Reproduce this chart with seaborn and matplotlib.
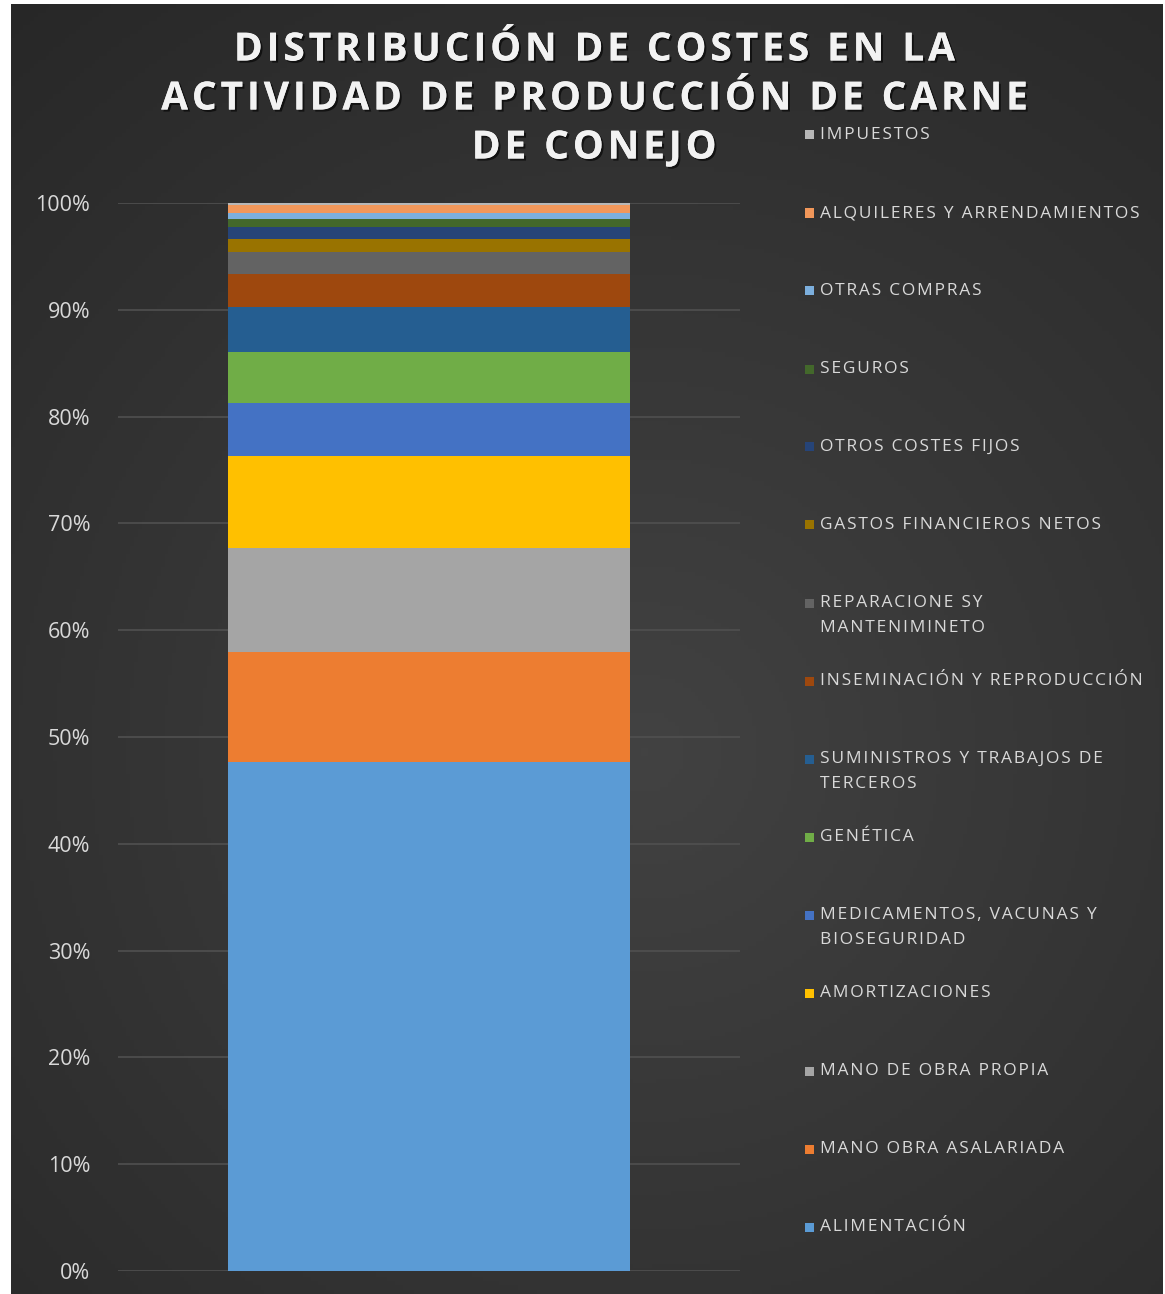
import numpy as np
import pandas as pd
import seaborn as sns
import matplotlib.pyplot as plt
import matplotlib.patheffects as pe
from matplotlib.patches import Rectangle
from matplotlib.ticker import PercentFormatter

# Cost categories (bottom to top of the stacked bar)
categorias = [
    'ALIMENTACIÓN', 'MANO OBRA ASALARIADA', 'MANO DE OBRA PROPIA', 'AMORTIZACIONES',
    'MEDICAMENTOS, VACUNAS Y\nBIOSEGURIDAD', 'GENÉTICA', 'SUMINISTROS Y TRABAJOS DE\nTERCEROS',
    'INSEMINACIÓN Y REPRODUCCIÓN', 'REPARACIONE SY\nMANTENIMINETO', 'GASTOS FINANCIEROS NETOS',
    'OTROS COSTES FIJOS', 'SEGUROS', 'OTRAS COMPRAS', 'ALQUILERES Y ARRENDAMIENTOS', 'IMPUESTOS',
]
# share of total cost (%)
porcentajes = [47.66, 10.30, 9.74, 8.60, 4.96, 4.77, 4.20, 3.13, 2.09, 1.19, 1.15, 0.72, 0.56, 0.78, 0.15]
colores = [
    '#5B9BD5', '#ED7D31', '#A5A5A5', '#FFC000', '#4472C4', '#70AD47', '#255E91', '#9E480E',
    '#636363', '#997300', '#264478', '#43682B', '#7CAFDD', '#F1975A', '#B7B7B7',
]
titulo = ['DISTRIBUCIÓN DE COSTES EN LA', 'ACTIVIDAD DE PRODUCCIÓN DE CARNE', 'DE CONEJO']

df = pd.DataFrame({'categoria': categorias, 'valor': porcentajes, 'color': colores})
df['valor'] = df['valor'] / df['valor'].sum()
df['acumulado'] = df['valor'].cumsum()


def espaciar(txt):
    # wider letter spacing, like the original
    return '\n'.join('\u200a'.join(linea) for linea in txt.split('\n'))


FAM = ['Open Sans', 'DejaVu Sans']
W, H = 1165, 1294
fig = plt.figure(figsize=(W / 100, H / 100), dpi=100, facecolor='white')

# dark gradient background
bg = fig.add_axes([11 / W, 0, (W - 13) / W, (H - 4) / H], zorder=-5)
yy, xx = np.mgrid[0:1:300j, 0:1:300j]
r = np.sqrt(((xx - 0.55) / 0.9) ** 2 + ((yy - 0.58) / 0.8) ** 2)
bg.imshow(np.clip(r, 0, 1), cmap=sns.blend_palette(['#424242', '#262626'], as_cmap=True),
          aspect='auto', extent=[0, 1, 0, 1], origin='upper', vmin=0, vmax=1)
bg.axis('off')

ax = fig.add_axes([118 / W, (H - 1271) / H, 622 / W, 1068 / H])
ax.set_facecolor('none')

# stacked bar: draw cumulative totals from top down
for _, row in df[::-1].iterrows():
    sns.barplot(x=['coste'], y=[row['acumulado']], color=row['color'], width=0.646,
                linewidth=0, saturation=1, ax=ax, zorder=3)

ax.set_xlim(-0.5, 0.5)
ax.set_ylim(0, 1)
ax.set_yticks(np.arange(0, 1.01, 0.1))
ax.yaxis.set_major_formatter(PercentFormatter(1.0, decimals=0))
ax.set_xticks([])
ax.set_xlabel('')
ax.set_ylabel('')
ax.grid(axis='y', color='#505050', linewidth=1.2, zorder=0)
ax.tick_params(axis='y', length=0, pad=20, labelcolor='#d9d9d9', labelsize=15.5)
for lab in ax.get_yticklabels():
    lab.set_fontfamily('Open Sans')
for s in ax.spines.values():
    s.set_visible(False)

# title, one text per line
sombra = [pe.withSimplePatchShadow(offset=(1.5, -1.5), shadow_rgbFace='black', alpha=0.6), pe.Normal()]
for i, linea in enumerate(titulo):
    fig.text(594 / W, (H - (50 + 49 * i)) / H, espaciar(linea), ha='center', va='center',
             color='#f2f2f2', fontsize=28, fontweight='bold', family=FAM, path_effects=sombra)

# legend, top entry = last category
for i, (_, row) in enumerate(df[::-1].iterrows()):
    y = (H - (135 + 78.0 * i)) / H
    fig.patches.append(Rectangle((805 / W, y - 4.5 / H), 9 / W, 9 / H, transform=fig.transFigure,
                                 facecolor=row['color'], edgecolor='none'))
    fig.text(820 / W, y + 8 / H, espaciar(row['categoria']), ha='left', va='top', color='#d9d9d9',
             fontsize=12.5, family=FAM, linespacing=1.75)

fig.savefig('out.png', dpi=100, facecolor='white')
